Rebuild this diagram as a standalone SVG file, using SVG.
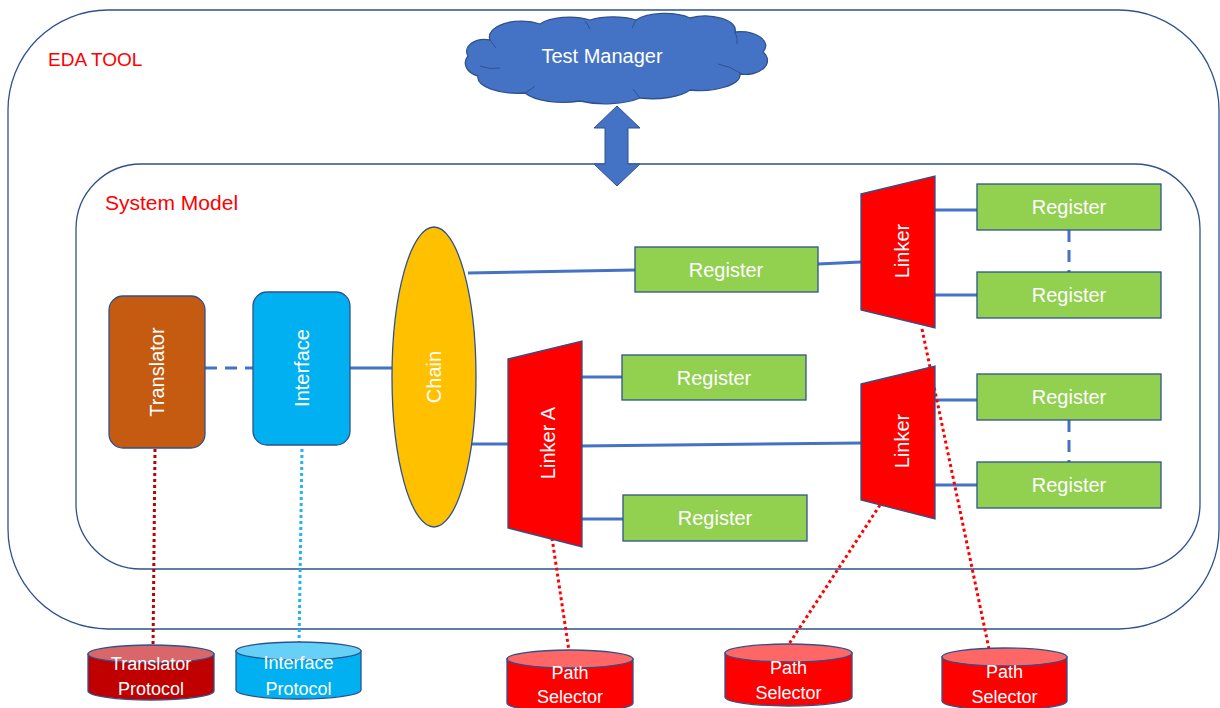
<svg xmlns="http://www.w3.org/2000/svg" width="1220" height="708" viewBox="0 0 1220 708">
<style>
text{font-family:"Liberation Sans",Arial,sans-serif;}
.wt{fill:#fff;font-size:20px;text-anchor:middle;}
.ct{fill:#fff;font-size:18px;text-anchor:middle;}
.lbl{fill:#ff0000;}
.box{stroke:#2F528F;stroke-width:1.3;}
.reg{fill:#92D050;stroke:#2F528F;stroke-width:1.3;}
.lnk{fill:#ff0000;stroke:#2F528F;stroke-width:1.3;}
.conn{stroke:#4472C4;stroke-width:3;fill:none;}
.dash{stroke:#4472C4;stroke-width:3;fill:none;stroke-dasharray:12 8;}
.dot{stroke-width:3;fill:none;stroke-dasharray:3 3;}
.cont{fill:none;stroke:#2F528F;stroke-width:1.3;}
</style>
<rect width="1220" height="708" fill="#fff"/>
<g id="eda-tool">
<rect class="cont" x="8" y="10" width="1211" height="619" rx="100" ry="100"/>
<text class="lbl" x="48" y="66" font-size="19">EDA TOOL</text>
</g>
<g id="system-model">
<rect class="cont" x="76" y="164" width="1124" height="405" rx="65" ry="65"/>
<text class="lbl" x="105" y="210" font-size="21">System Model</text>
</g>
<g id="connectors">
<line class="dash" x1="205" y1="368" x2="258" y2="368"/>
<line class="conn" x1="350" y1="368" x2="392" y2="368"/>
<line class="conn" x1="468" y1="273" x2="635" y2="270"/>
<line class="conn" x1="818" y1="264" x2="861" y2="262"/>
<line class="conn" x1="472" y1="444" x2="508" y2="444"/>
<line class="conn" x1="580" y1="446" x2="862" y2="443"/>
<line class="conn" x1="582" y1="377" x2="622" y2="377"/>
<line class="conn" x1="571" y1="519" x2="623" y2="519"/>
<line class="conn" x1="935" y1="210" x2="977" y2="210"/>
<line class="conn" x1="935" y1="295" x2="977" y2="295"/>
<line class="conn" x1="935" y1="400" x2="977" y2="400"/>
<line class="conn" x1="935" y1="485" x2="977" y2="485"/>
<line class="dash" x1="1069" y1="230" x2="1069" y2="272"/>
<line class="dash" x1="1069" y1="420" x2="1069" y2="462"/>
<line class="dot" stroke="#C00000" x1="155" y1="449" x2="153" y2="648"/>
<line class="dot" stroke="#22B5EE" x1="302" y1="449" x2="299" y2="645"/>
<line class="dot" stroke="#ff0000" x1="552" y1="538" x2="569" y2="651"/>
<line class="dot" stroke="#ff0000" x1="880" y1="505" x2="789" y2="644"/>
<line class="dot" stroke="#ff0000" x1="922" y1="329" x2="989" y2="649"/>
<polygon fill="#4472C4" stroke="#2F528F" stroke-width="1" points="617,106 640,128 628,128 628,164 640,164 617,186 594,164 605,164 605,128 594,128"/>
</g>
<g id="test-manager">
<path fill="#4472C4" stroke="#2F528F" stroke-width="1.3" d="M 478,76 A 20,14 0 0 1 468,56 A 18,12 0 0 1 490,40 A 32,16 0 0 1 540,24 A 34,14 0 0 1 590,20 A 34,12 0 0 1 636,20 A 34,14 0 0 1 690,18 A 30,14 0 0 1 735,32 A 26,14 0 0 1 763,52 A 22,14 0 0 1 740,74 A 40,16 0 0 1 690,90 A 42,16 0 0 1 640,98 A 45,16 0 0 1 580,101 A 42,16 0 0 1 525,93 A 40,16 0 0 1 478,76 Z"/>
<path fill="none" stroke="#2F528F" stroke-width="1" d="M 480,66 Q 490,70 500,68 M 490,40 Q 493,44 496,48 M 585,21 Q 588,25 590,29 M 636,20 Q 634,24 632,28 M 735,32 Q 738,38 737,44 M 742,74 Q 730,66 718,64 M 640,98 Q 636,93 633,89 M 525,93 Q 530,90 535,86"/>
<text class="wt" x="602" y="63">Test Manager</text>
</g>
<g id="translator">
<rect class="box" fill="#C55A11" x="109" y="296" width="96" height="152" rx="14" ry="14"/>
<text class="wt" transform="translate(164,372) rotate(-90)">Translator</text>
</g>
<g id="interface">
<rect class="box" fill="#00B0F0" x="253" y="292" width="97" height="153" rx="14" ry="14"/>
<text class="wt" transform="translate(309,368) rotate(-90)">Interface</text>
</g>
<g id="chain">
<ellipse fill="#FFC000" stroke="#2F528F" stroke-width="1.3" cx="434" cy="377" rx="42" ry="150"/>
<text class="wt" transform="translate(441,377) rotate(-90)">Chain</text>
</g>
<g id="register-top">
<rect class="reg" x="635" y="247" width="183" height="45"/>
<text class="wt" x="726" y="277">Register</text>
</g>
<g id="linker-a">
<polygon class="lnk" points="508,359 582,341 582,547 508,528"/>
<text class="wt" transform="translate(555,443) rotate(-90)">Linker A</text>
</g>
<g id="register-a1">
<rect class="reg" x="622" y="355" width="184" height="45"/>
<text class="wt" x="714" y="385">Register</text>
</g>
<g id="register-a2">
<rect class="reg" x="623" y="495" width="184" height="46"/>
<text class="wt" x="715" y="525">Register</text>
</g>
<g id="linker-upper">
<polygon class="lnk" points="861,194 935,176 935,328 861,310"/>
<text class="wt" transform="translate(909,251) rotate(-90)">Linker</text>
</g>
<g id="linker-lower">
<polygon class="lnk" points="861,384 935,366 935,519 861,500"/>
<text class="wt" transform="translate(909,441) rotate(-90)">Linker</text>
</g>
<g id="register-u1">
<rect class="reg" x="977" y="184" width="184" height="46"/>
<text class="wt" x="1069" y="214">Register</text>
</g>
<g id="register-u2">
<rect class="reg" x="977" y="272" width="184" height="46"/>
<text class="wt" x="1069" y="302">Register</text>
</g>
<g id="register-l1">
<rect class="reg" x="977" y="374" width="184" height="46"/>
<text class="wt" x="1069" y="404">Register</text>
</g>
<g id="register-l2">
<rect class="reg" x="977" y="462" width="184" height="46"/>
<text class="wt" x="1069" y="492">Register</text>
</g>
<g id="translator-protocol">
<path class="box" fill="#C00000" d="M 88,654 V 691 A 63,9 0 0 0 214,691 V 654 Z"/>
<ellipse class="box" fill="#D9676A" cx="151" cy="654" rx="63" ry="9"/>
<text class="ct" x="151" y="670">Translator</text>
<text class="ct" x="151" y="695">Protocol</text>
</g>
<g id="interface-protocol">
<path class="box" fill="#00B0F0" d="M 236,651 V 690 A 62.5,9 0 0 0 361,690 V 651 Z"/>
<ellipse class="box" fill="#66D0F6" cx="298.5" cy="651" rx="62.5" ry="9"/>
<text class="ct" x="298.5" y="669">Interface</text>
<text class="ct" x="298.5" y="695">Protocol</text>
</g>
<g id="path-selector-1">
<path class="box" fill="#ff0000" d="M 507,659 V 703 A 63,9 0 0 0 633,703 V 659 Z"/>
<ellipse class="box" fill="#FF6666" cx="570" cy="659" rx="63" ry="9"/>
<text class="ct" x="570" y="679">Path</text>
<text class="ct" x="570" y="703">Selector</text>
</g>
<g id="path-selector-2">
<path class="box" fill="#ff0000" d="M 725,653 V 697 A 63.5,9 0 0 0 852,697 V 653 Z"/>
<ellipse class="box" fill="#FF6666" cx="788.5" cy="653" rx="63.5" ry="9"/>
<text class="ct" x="788.5" y="674">Path</text>
<text class="ct" x="788.5" y="699">Selector</text>
</g>
<g id="path-selector-3">
<path class="box" fill="#ff0000" d="M 942,657 V 701 A 62.5,9 0 0 0 1067,701 V 657 Z"/>
<ellipse class="box" fill="#FF6666" cx="1004.5" cy="657" rx="62.5" ry="9"/>
<text class="ct" x="1004.5" y="678">Path</text>
<text class="ct" x="1004.5" y="703">Selector</text>
</g>
</svg>
